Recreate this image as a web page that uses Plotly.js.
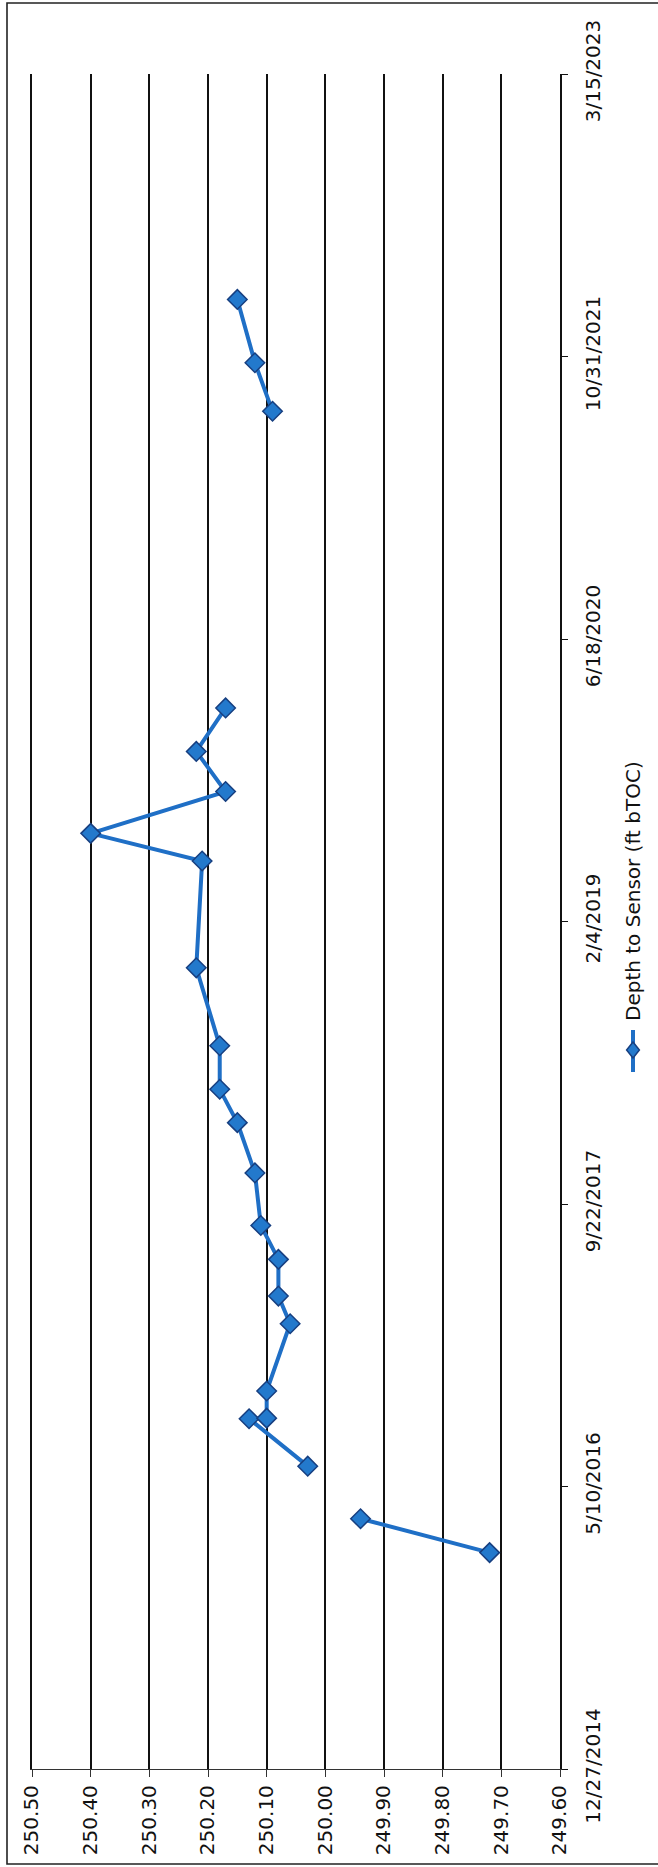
<!DOCTYPE html>
<html>
<head>
<meta charset="utf-8">
<script src="https://cdn.plot.ly/plotly-3.0.1.min.js"></script>
<style>
  html, body { margin: 0; padding: 0; background: #fff; }
  #chart { width: 658px; height: 1867px; }
</style>
</head>
<body>
<div id="chart"></div>
<script>
// sample dates and depth readings (null = break in the line)
var sampleDates = [
    '2016-01-14', '2016-03-14', '2016-05-01', '2016-06-15', '2016-09-07',
    '2016-09-08', '2016-10-26', '2017-02-22', '2017-04-12', '2017-06-16',
    '2017-08-15', '2017-11-16', '2018-02-13', '2018-04-13', '2018-06-29',
    '2018-11-14', '2019-05-22', '2019-07-10', '2019-09-22', '2019-12-02',
    '2020-02-17', '2021-01-01', '2021-07-26', '2021-10-20', '2022-02-09'
];
var depthToSensor = [
    249.72, 249.94, null, 250.03, 250.13,
    250.10, 250.10, 250.06, 250.08, 250.08,
    250.11, 250.12, 250.15, 250.18, 250.18,
    250.22, 250.21, 250.40, 250.17, 250.22,
    250.17, null, 250.09, 250.12, 250.15
];
var seriesName = 'Depth to Sensor (ft bTOC)';

// value axis (drawn horizontally, page is rotated)
var valueRange = [250.50, 249.60];
var valueStep = 0.1;

// date axis (drawn vertically)
var dateRange = ['2014-12-27', '2023-03-15'];
var dateStepDays = 500;

var W = 658, H = 1867;
var margin = {l: 32, r: 98, t: 74, b: 98};
var plotW = W - margin.l - margin.r;
var plotH = H - margin.t - margin.b;

// helpers to turn page pixels into paper coordinates
function px(x) { return (x - margin.l) / plotW; }
function py(y) { return (H - margin.b - y) / plotH; }

var font = {family: 'DejaVu Sans, Verdana, sans-serif', size: 20, color: '#111'};

var plotlyData = [
    {
        x: depthToSensor,
        y: sampleDates,
        type: 'scatter',
        mode: 'lines+markers',
        name: seriesName,
        connectgaps: false,
        line: {color: '#1f6fc6', width: 4},
        marker: {symbol: 'diamond', size: 15, color: '#2379cc', line: {color: '#173f80', width: 1.5}},
        showlegend: false
    }
];

// legend key drawn by hand since the legend is turned sideways
var keyX = 633, keyY = 1050, d = 8;
var diamondPath = 'M' + px(keyX) + ',' + py(keyY - d) +
    ' L' + px(keyX + d * 0.8) + ',' + py(keyY) +
    ' L' + px(keyX) + ',' + py(keyY + d) +
    ' L' + px(keyX - d * 0.8) + ',' + py(keyY) + ' Z';

var plotlyLayout = {
    width: W,
    height: H,
    margin: margin,
    paper_bgcolor: '#fff',
    plot_bgcolor: '#fff',
    font: font,
    showlegend: false,
    xaxis: {
        range: valueRange,
        tick0: 249.6,
        dtick: valueStep,
        tickformat: '.2f',
        tickangle: -90,
        showgrid: true,
        gridcolor: '#111',
        gridwidth: 1.6,
        zeroline: false,
        showline: true,
        linecolor: '#333',
        linewidth: 1.3,
        ticks: 'outside',
        ticklen: 7,
        tickcolor: '#333',
        tickfont: font
    },
    yaxis: {
        type: 'date',
        range: dateRange,
        tick0: dateRange[0],
        dtick: dateStepDays * 86400000,
        tickformat: '%-m/%-d/%Y',
        side: 'right',
        tickangle: -90,
        showgrid: false,
        zeroline: false,
        showline: true,
        mirror: true,
        linecolor: '#111',
        linewidth: 1.6,
        ticks: 'outside',
        ticklen: 6,
        tickcolor: '#111',
        ticklabelstandoff: 8,
        tickfont: font
    },
    shapes: [
        // outer chart border (right edge is cut off in the scan)
        {type: 'rect', xref: 'paper', yref: 'paper',
         x0: px(7), x1: px(700), y0: py(1864), y1: py(3),
         line: {color: '#222', width: 1.6}, fillcolor: 'rgba(0,0,0,0)'},
        {type: 'line', xref: 'paper', yref: 'paper',
         x0: px(keyX), x1: px(keyX), y0: py(keyY - 20), y1: py(keyY + 22),
         line: {color: '#1f6fc6', width: 4}},
        {type: 'path', xref: 'paper', yref: 'paper', path: diamondPath,
         fillcolor: '#2379cc', line: {color: '#173f80', width: 1.5}}
    ],
    annotations: [
        {xref: 'paper', yref: 'paper', x: px(keyX), y: py(keyY - 27),
         xanchor: 'center', yanchor: 'bottom', textangle: -90,
         text: seriesName, showarrow: false, font: font}
    ]
};

var plotlyConfig = {displayModeBar: false, responsive: false};

Plotly.newPlot('chart', plotlyData, plotlyLayout, plotlyConfig);
</script>
</body>
</html>
